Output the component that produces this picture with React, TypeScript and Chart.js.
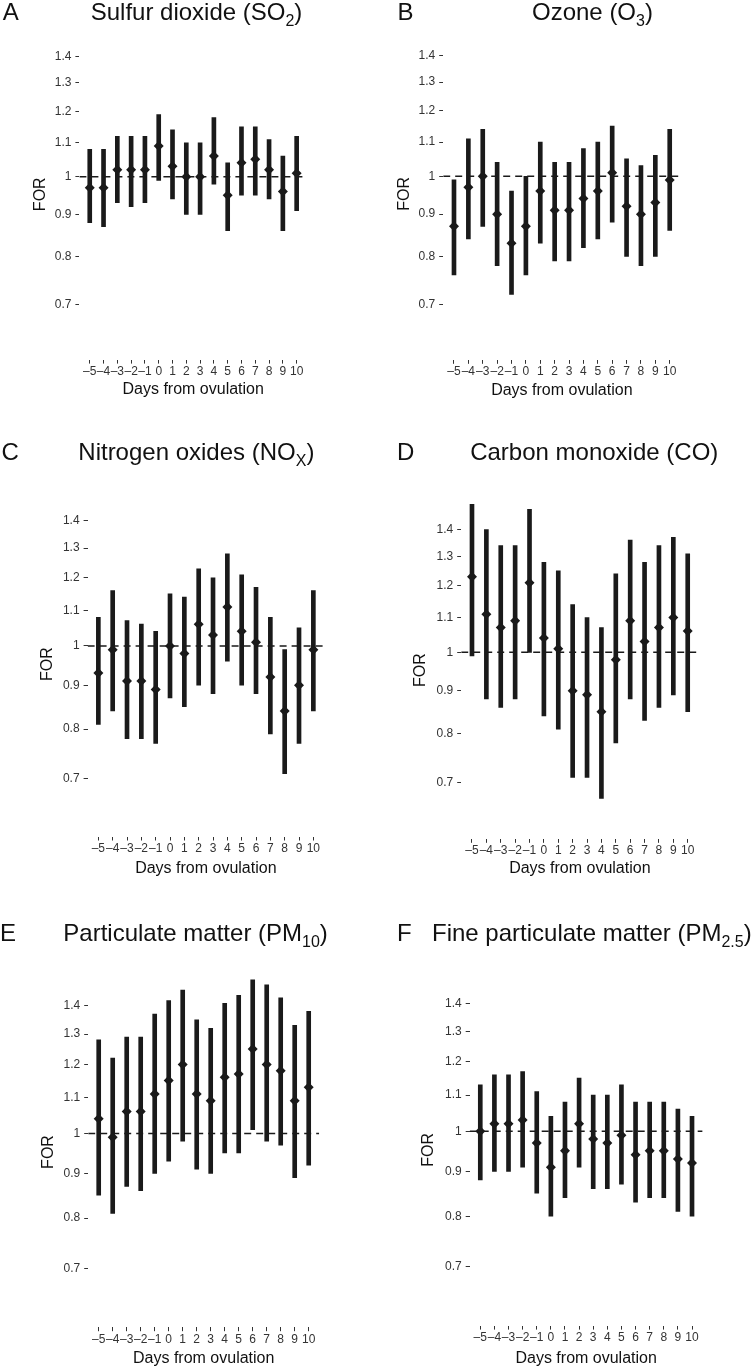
import React, { useEffect, useRef } from "react";
import { Chart, registerables } from "chart.js";

Chart.register(...registerables);

// ---------- data ----------
const days = [-5, -4, -3, -2, -1, 0, 1, 2, 3, 4, 5, 6, 7, 8, 9, 10];
const xTickLabels = ["–5", "–4", "–3", "–2", "–1", "0", "1", "2", "3", "4", "5", "6", "7", "8", "9", "10"];
const yTickValues = [0.7, 0.8, 0.9, 1.0, 1.1, 1.2, 1.3, 1.4];
const yTickLabels = ["0.7", "0.8", "0.9", "1", "1.1", "1.2", "1.3", "1.4"];
const xAxisTitle = "Days from ovulation";
const yAxisTitle = "FOR";
const referenceValue = 1;

const so2Est = [0.97, 0.97, 1.02, 1.02, 1.02, 1.09, 1.03, 1.0, 1.0, 1.06, 0.95, 1.04, 1.05, 1.02, 0.96, 1.01];
const so2Lo = [0.88, 0.87, 0.93, 0.92, 0.93, 0.99, 0.94, 0.9, 0.9, 0.98, 0.86, 0.95, 0.95, 0.94, 0.86, 0.91];
const so2Hi = [1.08, 1.08, 1.12, 1.12, 1.12, 1.19, 1.14, 1.1, 1.1, 1.18, 1.04, 1.15, 1.15, 1.11, 1.06, 1.12];

const o3Est = [0.87, 0.97, 1.0, 0.9, 0.83, 0.87, 0.96, 0.91, 0.91, 0.94, 0.96, 1.01, 0.92, 0.9, 0.93, 0.99];
const o3Lo = [0.76, 0.84, 0.87, 0.78, 0.72, 0.76, 0.83, 0.79, 0.79, 0.82, 0.84, 0.88, 0.8, 0.78, 0.8, 0.86];
const o3Hi = [0.99, 1.11, 1.14, 1.04, 0.96, 1.0, 1.1, 1.04, 1.04, 1.08, 1.1, 1.15, 1.05, 1.03, 1.06, 1.14];

const noxEst = [0.93, 0.99, 0.91, 0.91, 0.89, 1.0, 0.98, 1.06, 1.03, 1.11, 1.04, 1.01, 0.92, 0.84, 0.9, 0.99];
const noxLo = [0.81, 0.84, 0.78, 0.78, 0.77, 0.87, 0.85, 0.9, 0.88, 0.96, 0.9, 0.88, 0.79, 0.71, 0.77, 0.84];
const noxHi = [1.08, 1.16, 1.07, 1.06, 1.04, 1.15, 1.14, 1.23, 1.2, 1.28, 1.21, 1.17, 1.08, 0.99, 1.05, 1.16];

const coEst = [1.23, 1.11, 1.07, 1.09, 1.21, 1.04, 1.01, 0.9, 0.89, 0.85, 0.98, 1.09, 1.03, 1.07, 1.1, 1.06];
const coLo = [0.99, 0.88, 0.86, 0.88, 1.0, 0.84, 0.81, 0.71, 0.71, 0.67, 0.78, 0.88, 0.83, 0.86, 0.89, 0.85];
const coHi = [1.5, 1.4, 1.34, 1.34, 1.48, 1.28, 1.25, 1.14, 1.1, 1.07, 1.24, 1.36, 1.28, 1.34, 1.37, 1.31];

const pm10Est = [1.04, 0.99, 1.06, 1.06, 1.11, 1.15, 1.2, 1.11, 1.09, 1.16, 1.17, 1.25, 1.2, 1.18, 1.09, 1.13];
const pm10Lo = [0.85, 0.81, 0.87, 0.86, 0.9, 0.93, 0.98, 0.91, 0.9, 0.95, 0.95, 1.01, 0.98, 0.97, 0.89, 0.92];
const pm10Hi = [1.28, 1.22, 1.29, 1.29, 1.37, 1.42, 1.46, 1.35, 1.32, 1.41, 1.44, 1.5, 1.48, 1.43, 1.33, 1.38];

const pm25Est = [1.0, 1.02, 1.02, 1.03, 0.97, 0.91, 0.95, 1.02, 0.98, 0.97, 0.99, 0.94, 0.95, 0.95, 0.93, 0.92];
const pm25Lo = [0.88, 0.9, 0.9, 0.91, 0.85, 0.8, 0.84, 0.91, 0.86, 0.86, 0.87, 0.83, 0.84, 0.84, 0.81, 0.8];
const pm25Hi = [1.13, 1.16, 1.16, 1.17, 1.11, 1.04, 1.08, 1.15, 1.1, 1.1, 1.13, 1.08, 1.08, 1.08, 1.06, 1.04];

// ---------- scale limits ----------
const X_MIN = -5.75;
const X_MAX = 10.75;
const Y_MIN = 0.624;
const Y_MAX = 1.512;

// ---------- layout (pixels) ----------
type Layout = {
  canvas: { x: number; y: number; w: number; h: number };
  area: { l: number; t: number; r: number; b: number };
  forX: number;
  daysY: number;
  letterX: number;
  titleX: number;
  baseline: number;
};

const FONT = "'Liberation Sans', Arial, Helvetica, sans-serif";
const INK = "#1a1a1a";

const panels: {
  letter: string;
  title: string;
  sub: string;
  tail: string;
  est: number[];
  lo: number[];
  hi: number[];
  layout: Layout;
}[] = [
  {
    letter: "A", title: "Sulfur dioxide (SO", sub: "2", tail: ")",
    est: so2Est, lo: so2Lo, hi: so2Hi,
    layout: { canvas: { x: 0, y: 0, w: 377, h: 420 }, area: { l: 79.4, t: 28.9, r: 307.0, b: 359.6 }, forX: 40.5, daysY: 390, letterX: 2.7, titleX: 90.7, baseline: 20.7 },
  },
  {
    letter: "B", title: "Ozone (O", sub: "3", tail: ")",
    est: o3Est, lo: o3Lo, hi: o3Hi,
    layout: { canvas: { x: 377, y: 0, w: 377, h: 420 }, area: { l: 443.2, t: 27.8, r: 680.5, b: 359.8 }, forX: 404.5, daysY: 390.5, letterX: 397.4, titleX: 532, baseline: 20.7 },
  },
  {
    letter: "C", title: "Nitrogen oxides (NO", sub: "X", tail: ")",
    est: noxEst, lo: noxLo, hi: noxHi,
    layout: { canvas: { x: 0, y: 420, w: 377, h: 460 }, area: { l: 87.6, t: 491.7, r: 324.1, b: 836.5 }, forX: 47.3, daysY: 869, letterX: 1.6, titleX: 78.3, baseline: 460.7 },
  },
  {
    letter: "D", title: "Carbon monoxide (CO)", sub: "", tail: "",
    est: coEst, lo: coLo, hi: coHi,
    layout: { canvas: { x: 377, y: 420, w: 377, h: 460 }, area: { l: 461.2, t: 501.4, r: 698.5, b: 838.8 }, forX: 421, daysY: 869, letterX: 397, titleX: 470.2, baseline: 460.7 },
  },
  {
    letter: "E", title: "Particulate matter (PM", sub: "10", tail: ")",
    est: pm10Est, lo: pm10Lo, hi: pm10Hi,
    layout: { canvas: { x: 0, y: 880, w: 377, h: 488 }, area: { l: 88.2, t: 976.8, r: 319.2, b: 1327.2 }, forX: 48.7, daysY: 1358.7, letterX: 0, titleX: 63.3, baseline: 941.7 },
  },
  {
    letter: "F", title: "Fine particulate matter (PM", sub: "2.5", tail: ")",
    est: pm25Est, lo: pm25Lo, hi: pm25Hi,
    layout: { canvas: { x: 377, y: 880, w: 377, h: 488 }, area: { l: 469.7, t: 974.1, r: 702.6, b: 1325.6 }, forX: 428.5, daysY: 1359, letterX: 397, titleX: 432, baseline: 941.7 },
  },
];

const TICK_FONT = 12;
const AXIS_TITLE_FONT = 16;
const PANEL_TITLE_FONT = 24;

function PanelChart({ p }: { p: (typeof panels)[number] }) {
  const ref = useRef<HTMLCanvasElement | null>(null);
  const L = p.layout;
  const c = L.canvas;

  useEffect(() => {
    if (!ref.current) return;
    const yAxisW = L.area.l - c.x;
    const xAxisH = c.y + c.h - L.area.b;
    const padTop = L.area.t - c.y;
    const padRight = c.x + c.w - L.area.r;
    const lh = AXIS_TITLE_FONT * 1.2;
    const forPad = L.forX - c.x - lh / 2;
    const daysPad = c.y + c.h - L.daysY - lh / 2;

    const chart = new Chart(ref.current, {
      type: "bar",
      data: {
        datasets: [
          {
            type: "line",
            data: [
              { x: X_MIN, y: referenceValue },
              { x: X_MAX, y: referenceValue },
            ],
            borderColor: INK,
            borderWidth: 1.5,
            borderDash: [7, 5],
            pointRadius: 0,
            order: 3,
          } as any,
          {
            type: "bar",
            data: days.map((d, i) => ({ x: d, y: [p.lo[i], p.hi[i]] })),
            backgroundColor: INK,
            borderWidth: 0,
            barThickness: 4,
            order: 2,
          } as any,
          {
            type: "scatter",
            data: days.map((d, i) => ({ x: d, y: p.est[i] })),
            pointStyle: "rectRot",
            pointRadius: 5,
            backgroundColor: INK,
            borderWidth: 0,
            order: 1,
          } as any,
        ],
      },
      options: {
        responsive: false,
        maintainAspectRatio: false,
        animation: false,
        events: [],
        layout: {
          autoPadding: false,
          padding: { left: 0, top: padTop, right: padRight, bottom: 0 },
        },
        plugins: { legend: { display: false }, tooltip: { enabled: false } },
        scales: {
          x: {
            type: "linear",
            min: X_MIN,
            max: X_MAX,
            offset: false,
            afterBuildTicks: (s: any) => {
              s.ticks = days.map((v) => ({ value: v }));
            },
            afterFit: (s: any) => {
              s.height = xAxisH;
            },
            ticks: {
              autoSkip: false,
              maxRotation: 0,
              minRotation: 0,
              padding: 1,
              color: "#333333",
              font: { family: FONT, size: TICK_FONT },
              callback: (_v: any, i: number) => xTickLabels[i],
            },
            grid: {
              display: true,
              offset: false,
              drawOnChartArea: false,
              drawTicks: true,
              tickLength: 4,
              tickColor: "#333333",
              tickWidth: 1,
            },
            border: { display: false },
            title: {
              display: true,
              text: xAxisTitle,
              color: "#111111",
              font: { family: FONT, size: AXIS_TITLE_FONT },
              padding: { top: 0, bottom: daysPad },
            },
          },
          y: {
            type: "logarithmic",
            min: Y_MIN,
            max: Y_MAX,
            afterBuildTicks: (s: any) => {
              s.ticks = yTickValues.map((v) => ({ value: v }));
            },
            afterFit: (s: any) => {
              s.width = yAxisW;
            },
            ticks: {
              autoSkip: false,
              padding: 4,
              color: "#333333",
              font: { family: FONT, size: TICK_FONT },
              callback: (_v: any, i: number) => yTickLabels[i],
            },
            grid: {
              display: true,
              drawOnChartArea: false,
              drawTicks: true,
              tickLength: 4,
              tickColor: "#333333",
              tickWidth: 1,
            },
            border: { display: false },
            title: {
              display: true,
              text: yAxisTitle,
              color: "#111111",
              font: { family: FONT, size: AXIS_TITLE_FONT },
              padding: { top: forPad, bottom: 0 },
            },
          },
        },
      } as any,
    });
    return () => chart.destroy();
  }, []);

  return (
    <canvas
      ref={ref}
      width={c.w}
      height={c.h}
      style={{ position: "absolute", left: c.x, top: c.y, width: c.w, height: c.h }}
    />
  );
}

function PanelTitle({ p }: { p: (typeof panels)[number] }) {
  const L = p.layout;
  const baselineOffset = 20.3;
  const common: React.CSSProperties = {
    position: "absolute",
    top: L.baseline - baselineOffset,
    fontSize: PANEL_TITLE_FONT,
    lineHeight: `${PANEL_TITLE_FONT}px`,
    fontFamily: FONT,
    color: "#111111",
    whiteSpace: "nowrap",
  };
  return (
    <>
      <div style={{ ...common, left: L.letterX }}>{p.letter}</div>
      <div style={{ ...common, left: L.titleX }}>
        {p.title}
        {p.sub ? (
          <span style={{ fontSize: 16, position: "relative", top: 5.5 }}>{p.sub}</span>
        ) : null}
        {p.tail}
      </div>
    </>
  );
}

export default function App() {
  return (
    <div
      style={{
        position: "absolute",
        left: 0,
        top: 0,
        width: 754,
        height: 1368,
        overflow: "hidden",
        background: "#ffffff",
      }}
    >
      {panels.map((p) => (
        <PanelChart key={"c" + p.letter} p={p} />
      ))}
      {panels.map((p) => (
        <PanelTitle key={"t" + p.letter} p={p} />
      ))}
    </div>
  );
}
